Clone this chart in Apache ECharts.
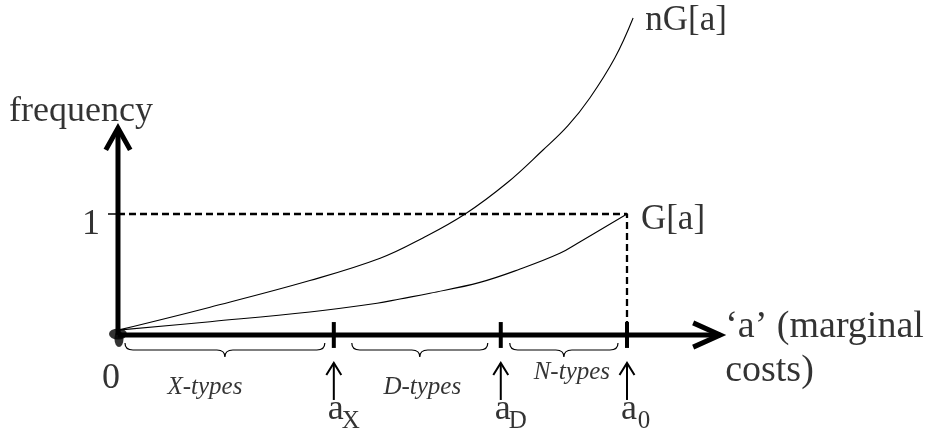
<!DOCTYPE html>
<html><head><meta charset="utf-8">
<script src="https://cdn.jsdelivr.net/npm/echarts@6/dist/echarts.min.js"></script>
<style>html,body{margin:0;padding:0;background:#fff}#c{width:932px;height:429px}</style>
</head><body><div id="c"></div>
<script>
// ---- data ----
const nG_x = [0, 0.181, 0.377, 0.515, 0.599, 0.682, 0.764, 0.835, 0.884, 0.927, 0.976, 1.012];
const nG_y = [0.04, 0.23, 0.45, 0.634, 0.802, 1.0, 1.256, 1.529, 1.73, 1.959, 2.289, 2.62];
const G_x = [0, 0.181, 0.377, 0.509, 0.554, 0.613, 0.711, 0.790, 0.868, 0.908, 1.0];
const G_y = [0.04, 0.11, 0.19, 0.262, 0.298, 0.345, 0.435, 0.545, 0.675, 0.771, 1.0];
const cutoffs = [0, 0.424, 0.752, 1.0];          // 0, aX, aD, a0
const cutoffSubs = ['X', 'D', '0'];              // subscripts of aX, aD, a0
const typeNames = ['X-types', 'D-types', 'N-types'];
const xAxisTip = 1.183, yAxisTip = 1.71, levelOne = 1;

// ---- layout ----
const FONT = "'Liberation Serif','Times New Roman',serif";
const typeOffsets = [[-21, 52], [5, 52], [8, 37]];
const braceGaps = [[7, 9], [18, 13], [9, 9]];
const K = '#000';

const pair = (xs, ys) => xs.map((x, i) => [x, ys[i]]);
const lineS = (data, w, extra) => Object.assign({
  type: 'line', data, symbol: 'none', silent: true, clip: false, animation: false,
  lineStyle: { color: K, width: w, join: 'miter', cap: 'butt' }, z: 3
}, extra || {});
const textS = (pt, text, offset, size, extra) => ({
  type: 'scatter', data: [pt], symbolSize: 0, silent: true, animation: false, z: 10,
  label: Object.assign({ show: true, position: 'inside', formatter: text, offset,
    color: K, fontFamily: FONT, fontSize: size, align: 'center', verticalAlign: 'middle' }, extra || {})
});

const series = [];
// axes
series.push(lineS([[0, 0], [xAxisTip, 0]], 5));
series.push(lineS([[0, 0], [0, yAxisTip]], 5));
series.push(lineS([[xAxisTip - 0.053, 0.1], [xAxisTip, 0], [xAxisTip - 0.053, -0.1]], 5));
series.push(lineS([[-0.024, yAxisTip - 0.18], [0, yAxisTip], [0.024, yAxisTip - 0.18]], 5));
// level-one tick & dashed guides
series.push(lineS([[-0.0196, levelOne], [0, levelOne]], 1.5));
series.push(lineS([[0, levelOne], [cutoffs[3], levelOne], [cutoffs[3], 0]], 2, {
  lineStyle: { color: K, width: 2.3, type: [7, 4] } }));
// cutoff ticks and up arrows
cutoffs.slice(1).forEach(a => {
  series.push(lineS([[a, 0.107], [a, -0.107]], 4));
  series.push(lineS([[a, -0.231], [a, -0.537]], 2));
  series.push(lineS([[a - 0.0147, -0.331], [a, -0.231], [a + 0.0147, -0.331]], 2));
});
// curves
series.push(lineS(pair(nG_x, nG_y), 1.1, { smooth: 0.4, z: 4 }));
series.push(lineS(pair(G_x, G_y), 1.1, { smooth: 0.4, z: 4 }));
// braces
series.push({
  type: 'custom', silent: true, animation: false, clip: false, z: 3,
  data: typeNames.map((n, i) => [cutoffs[i], cutoffs[i + 1], i]),
  renderItem(params, api) {
    const s = api.value(0), e = api.value(1), i = api.value(2);
    const p0 = api.coord([s, 0]), p1 = api.coord([e, 0]);
    const x0 = p0[0] + braceGaps[i][0], x1 = p1[0] - braceGaps[i][1];
    const y0 = p0[1] + 8, ym = y0 + 7, yb = y0 + 14, xc = (x0 + x1) / 2, r = 8;
    const d = `M${x0} ${y0} Q${x0} ${ym} ${x0 + r} ${ym} L${xc - r} ${ym} Q${xc} ${ym} ${xc} ${yb} ` +
              `Q${xc} ${ym} ${xc + r} ${ym} L${x1 - r} ${ym} Q${x1} ${ym} ${x1} ${y0}`;
    return { type: 'path', shape: { pathData: d }, style: { fill: null, stroke: K, lineWidth: 1.2 } };
  }
});
// origin blob
series.push({ type: 'scatter', data: [[0, 0]], symbol: 'circle', symbolSize: [18, 11], symbolOffset: [0, -1],
  itemStyle: { color: K }, silent: true, animation: false, z: 5 });
series.push({ type: 'scatter', data: [[0, 0]], symbol: 'circle', symbolSize: [9, 16], symbolOffset: [1, 4],
  itemStyle: { color: K }, silent: true, animation: false, z: 5 });
// texts
series.push(textS([0, yAxisTip], 'frequency', [-37, -17], 36));
series.push(textS([0, levelOne], '1', [-27, 11], 36));
series.push(textS([0, 0], '0', [-7, 44], 36));
series.push(textS([nG_x[nG_x.length - 1], nG_y[nG_y.length - 1]], 'nG[a]', [53, 3], 35));
series.push(textS([G_x[G_x.length - 1], G_y[G_y.length - 1]], 'G[a]', [46, 6], 35));
series.push(textS([xAxisTip, 0], '\u2018a\u2019 (marginal', [5, -8], 38, { align: 'left' }));
series.push(textS([xAxisTip, 0], 'costs)', [5, 36], 38, { align: 'left' }));
typeNames.forEach((n, i) => {
  series.push(textS([(cutoffs[i] + cutoffs[i + 1]) / 2, 0], n, typeOffsets[i], 25, { fontStyle: 'italic' }));
});
cutoffs.slice(1).forEach((a, i) => {
  series.push(textS([a, 0], 'a', [2, 75], 36));
  series.push(textS([a, 0], cutoffSubs[i], [17, 86], 25));
});

const chart = echarts.init(document.getElementById('c'), null, { renderer: 'canvas' });
chart.setOption({
  backgroundColor: '#fff',
  animation: false,
  grid: { left: 0, right: 0, top: 0, bottom: 0, containLabel: false, outerBoundsMode: 'none' },
  xAxis: { type: 'value', min: -0.2318, max: 1.5992, show: false },
  yAxis: { type: 'value', min: -0.7769, max: 2.7686, show: false },
  series
});
</script></body></html>
